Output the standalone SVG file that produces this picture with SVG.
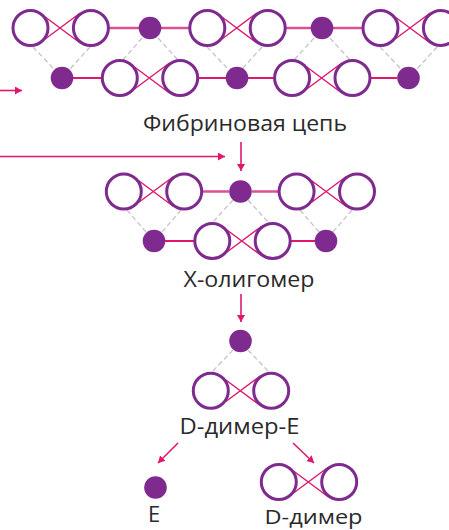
<svg xmlns="http://www.w3.org/2000/svg" width="449" height="530" viewBox="0 0 449 530">
<style>
.c{fill:#fff;stroke:#7f2a8e;stroke-width:3}
.s{fill:#7f2a8e}
.x{fill:none;stroke:#e0176c;stroke-width:1.4}
.l{fill:none;stroke:#e0176c;stroke-width:1.8}
.t{fill:none;stroke:#dc5096;stroke-width:2.4}
.d{fill:none;stroke:#c4c4c4;stroke-width:1.3;stroke-dasharray:5 3}
.a{fill:none;stroke:#e0176c;stroke-width:1.6;marker-end:url(#h)}
text{font-family:"Open Sans","Noto Sans","Liberation Sans",sans-serif;font-size:21px;fill:#2a2a2a;text-anchor:middle}
</style>
<defs>
<marker id="h" markerUnits="userSpaceOnUse" markerWidth="9" markerHeight="9" refX="7" refY="4" orient="auto"><path d="M0 0L7 4L0 8Z" fill="#e0176c"/></marker>
<g id="dimer">
<path class="x" d="M-15.5-11L19.5 15M-15.5 11L19.5-15"/>
<circle class="c" cx="-30.2" cy="0" r="17.5"/>
<circle class="c" cx="30.2" cy="0" r="17.5"/>
</g>
</defs>
<g id="connectors">
<path class="t" d="M108 28H139M161 28H190M284 28H311M333 28H363"/>
<path class="l" d="M73 78H102M197 78H226M248 78H275M370 78H397"/>
<path class="t" d="M201 191.5H229M252 191.5H280"/>
<path class="l" d="M165 241H195M290 241H315"/>
<path class="d" d="M33 47L54 69M90 47L70 69M142 38L123 60M158 38L178 60M262 47L243 68M207 47L228 69M314 38L294 60M330 38L350 60M380 47L401 69M437 47L417 69"/>
<path class="d" d="M127 210L146 232M181 210L162 232M233 200L212 223M248 200L269 223M300 210L319 232M352 210L333 232"/>
<path class="d" d="M233 350L212 372M248 350L269 372"/>
<path class="a" d="M0 90.5H22"/>
<path class="a" d="M0 156.5H225"/>
<path class="a" d="M241 142V171"/>
<path class="a" d="M241 294V322"/>
<path class="a" d="M178 443L158 463"/>
<path class="a" d="M293 443L314 463"/>
</g>
<g id="chain-top">
<use href="#dimer" x="60.7" y="28"/>
<circle class="s" cx="150" cy="28" r="11.3"/>
<use href="#dimer" x="237.5" y="28"/>
<circle class="s" cx="322" cy="28" r="11.3"/>
<use href="#dimer" x="410.7" y="28"/>
</g>
<g id="chain-bottom">
<circle class="s" cx="62" cy="78" r="11.3"/>
<use href="#dimer" x="150" y="78"/>
<circle class="s" cx="237" cy="78" r="11.3"/>
<use href="#dimer" x="322.3" y="78"/>
<circle class="s" cx="408.5" cy="78" r="11.3"/>
</g>
<g id="label-chain"><text x="245" y="131" textLength="204" lengthAdjust="spacingAndGlyphs">Фибриновая цепь</text></g>
<g id="oligomer-top">
<use href="#dimer" x="154" y="191.5"/>
<circle class="s" cx="240.5" cy="191.5" r="11.3"/>
<use href="#dimer" x="326.8" y="191.5"/>
</g>
<g id="oligomer-bottom">
<circle class="s" cx="154" cy="241" r="11.3"/>
<use href="#dimer" x="242.5" y="241"/>
<circle class="s" cx="326" cy="241" r="11.3"/>
</g>
<g id="label-oligomer"><text x="249" y="287" textLength="131" lengthAdjust="spacingAndGlyphs">Х-олигомер</text></g>
<g id="dde">
<circle class="s" cx="240.5" cy="341" r="11.3"/>
<use href="#dimer" x="241" y="390.7"/>
</g>
<g id="label-dde"><text x="239.5" y="434" textLength="120" lengthAdjust="spacingAndGlyphs">D-димер-Е</text></g>
<g id="e">
<circle class="s" cx="155.5" cy="487.5" r="11.3"/>
<text x="154" y="522" style="font-size:22px">Е</text>
</g>
<g id="d-dimer">
<use href="#dimer" x="309" y="482"/>
<text x="313.5" y="523.5" style="font-size:20px" textLength="98" lengthAdjust="spacingAndGlyphs">D-димер</text>
</g>
</svg>
